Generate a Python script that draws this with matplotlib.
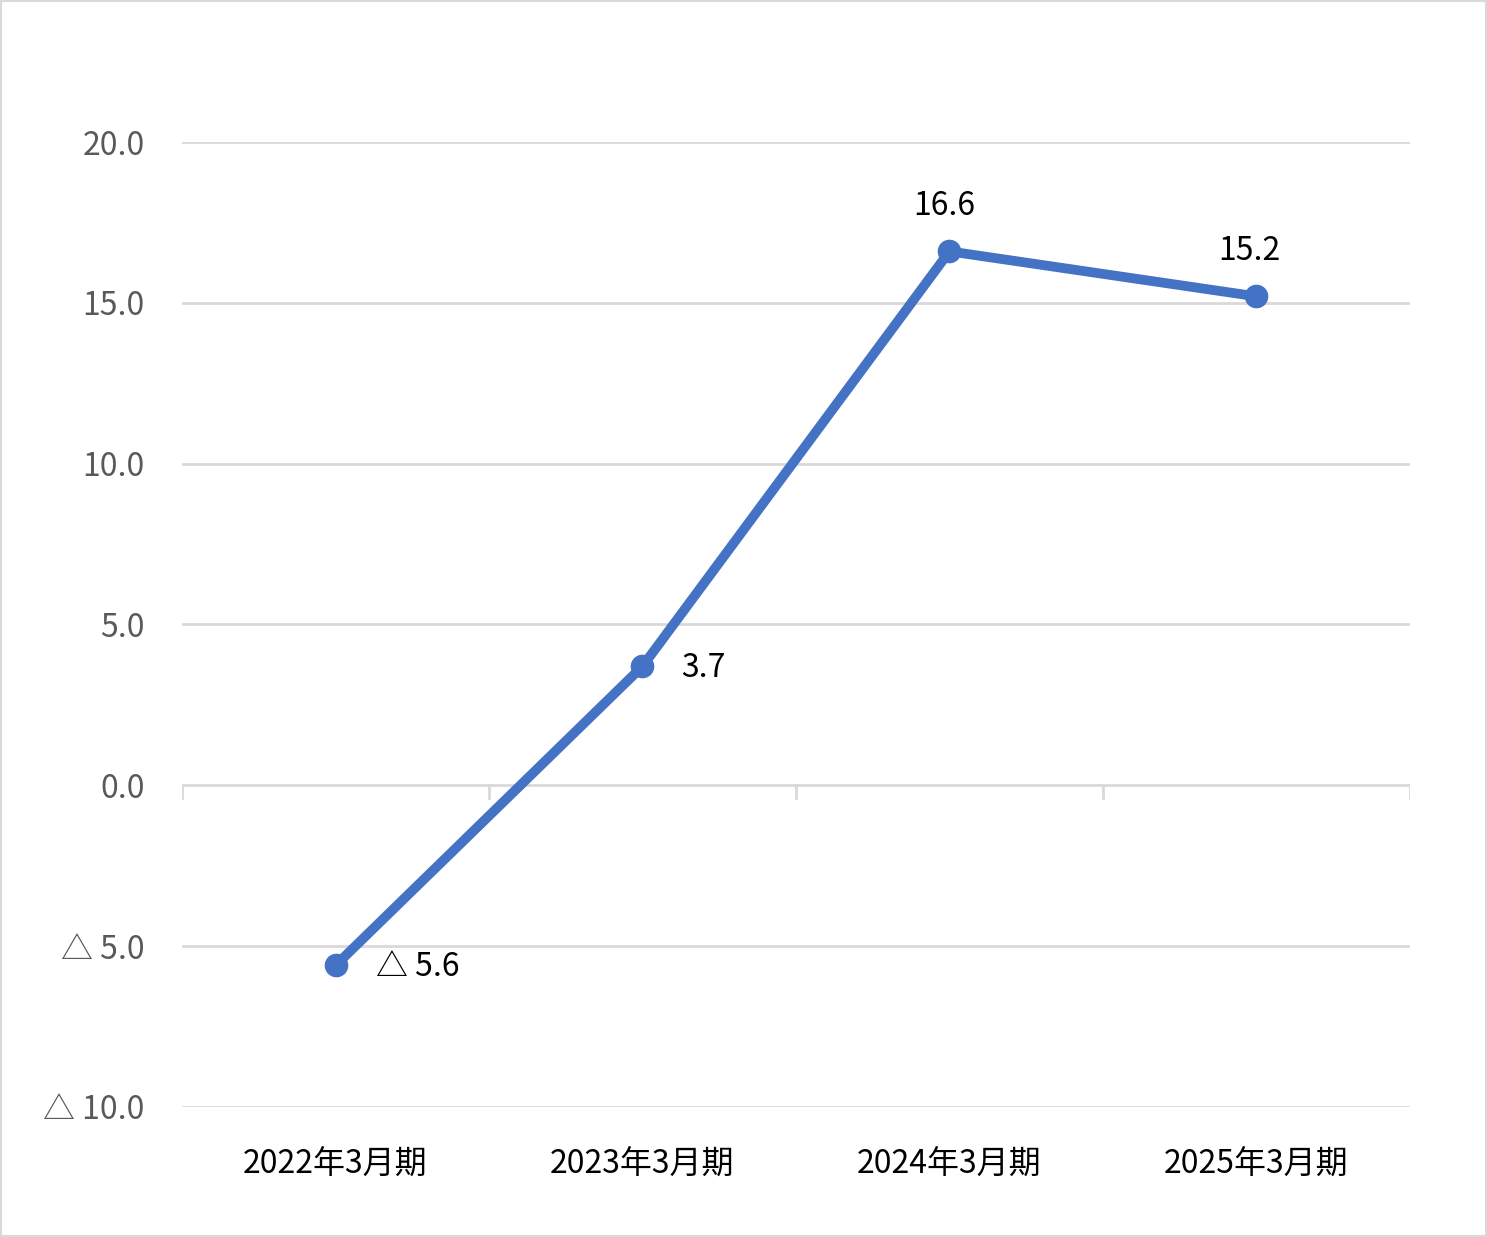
import matplotlib
matplotlib.use("Agg")
import matplotlib.pyplot as plt
from matplotlib.patches import Rectangle

plt.rcParams['font.family'] = ['Noto Sans CJK JP', 'DejaVu Sans']

categories = ["2022年3月期", "2023年3月期", "2024年3月期", "2025年3月期"]
values = [-5.6, 3.7, 16.6, 15.2]
ytick_vals = [-10, -5, 0, 5, 10, 15, 20]
ytick_labels = ["△ 10.0", "△ 5.0", "0.0", "5.0", "10.0", "15.0", "20.0"]
point_labels = ["△ 5.6", "3.7", "16.6", "15.2"]

fig = plt.figure(figsize=(14.87, 12.37), dpi=100)
fig.patches.append(Rectangle((0.001, 0.001), 0.998, 0.998, transform=fig.transFigure,
                             fill=False, edgecolor='#d9d9d9', linewidth=1.5))
ax = fig.add_axes([0.1224, 0.1051, 0.8258, 0.7801])
x = list(range(len(categories)))
ax.set_xlim(-0.5, len(categories) - 0.5)
ax.set_ylim(-10, 20)
for s in ax.spines.values():
    s.set_visible(False)
ax.set_yticks(ytick_vals)
ax.set_yticklabels(ytick_labels, fontsize=23, color='#595959')
ax.tick_params(axis='y', length=0, pad=27)
for v in ytick_vals:
    ax.axhline(v, color='#d9d9d9', lw=2, zorder=0)
for b in [i - 0.5 for i in range(len(categories) + 1)]:
    ax.plot([b, b], [0, -0.4], color='#d9d9d9', lw=2, zorder=0)
ax.set_xticks(x)
ax.set_xticklabels(categories, fontsize=23, color='black')
ax.tick_params(axis='x', length=0, pad=30)

ax.plot(x, values, color='#4472c4', lw=7, marker='o', markersize=16, zorder=3)
offsets = [(29, -1, 'left'), (28, -1, 'left'), (-4, 33, 'center'), (-5, 33, 'center')]
for xi, v, lab, (dx, dy, ha) in zip(x, values, point_labels, offsets):
    ax.annotate(lab, (xi, v), xytext=(dx, dy), textcoords='offset points',
                ha=ha, va='center', fontsize=23, color='black')

fig.savefig("out.png", dpi=100)
